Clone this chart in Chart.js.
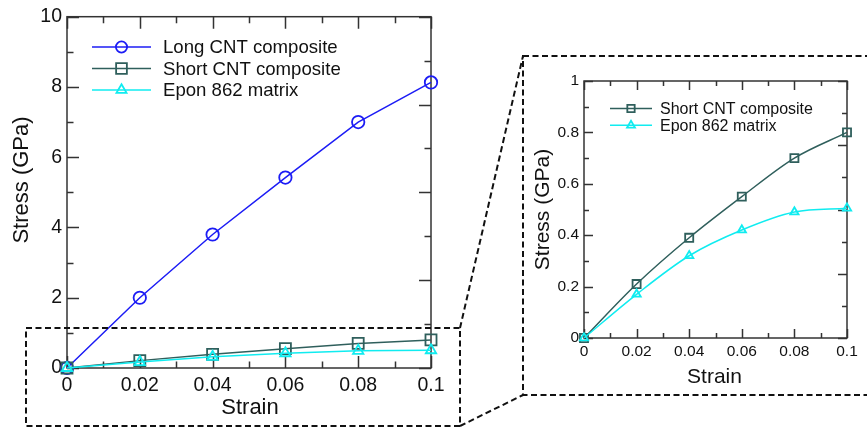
<!DOCTYPE html>
<html>
<head>
<meta charset="utf-8">
<script src="https://cdn.jsdelivr.net/npm/chart.js@4"></script>
<style>
  html, body { margin: 0; padding: 0; background: #fff; }
  #wrap { position: relative; width: 867px; height: 429px; overflow: hidden; background: #fff; }
  canvas { position: absolute; }
  #main { left: 0; top: 0; }
  #inset { left: 524px; top: 57px; }
  svg { position: absolute; left: 0; top: 0; pointer-events: none; }
</style>
</head>
<body>
<div id="wrap">
  <canvas id="main" width="470" height="429"></canvas>
  <canvas id="inset" width="343" height="338"></canvas>
  <svg width="867" height="429">
    <g fill="none" stroke="#111" stroke-width="2" stroke-dasharray="6 3.5">
      <rect x="26" y="328" width="434" height="98"></rect>
      <rect x="523" y="56" width="360" height="339"></rect>
      <line x1="460" y1="328" x2="523" y2="56"></line>
      <line x1="460" y1="426" x2="523" y2="395"></line>
    </g>
  </svg>
</div>
<script>
// Strain values shared by all curves
const strain = [0, 0.02, 0.04, 0.06, 0.08, 0.1];
// Stress (GPa)
const longCnt  = [0, 2.0, 3.8, 5.42, 7.0, 8.13];
const shortCnt = [0, 0.21, 0.39, 0.55, 0.70, 0.80];
const eponMatrix = [0, 0.17, 0.32, 0.42, 0.49, 0.505];

const seriesNames = ['Long CNT composite', 'Short CNT composite', 'Epon 862 matrix'];
const xTitle = 'Strain';
const yTitle = 'Stress (GPa)';

const FONT = "'Liberation Sans', Arial, Helvetica, sans-serif";
Chart.defaults.font.family = FONT;
Chart.defaults.color = '#111';

const toPoints = ys => strain.map((x, i) => ({ x, y: ys[i] }));
const fmt = v => String(+Number(v).toFixed(3));

// Box frame with inward major/minor ticks on all four sides
const frameTicks = {
  id: 'frameTicks',
  beforeDatasetsDraw(chart, args, o) {
    const { ctx, chartArea: a, scales: { x, y } } = chart;
    ctx.save();
    ctx.strokeStyle = o.color;
    ctx.lineWidth = o.width;
    ctx.beginPath();
    const run = (min, max, minor, every, fn) => {
      const n = Math.round((max - min) / minor);
      for (let i = 0; i <= n; i++) fn(min + i * minor, i % every === 0);
    };
    run(x.min, x.max, o.xMinor, o.xEvery, (v, major) => {
      const px = Math.round(x.getPixelForValue(v)) + 0.5;
      const L = major ? o.major : o.minor;
      ctx.moveTo(px, a.bottom); ctx.lineTo(px, a.bottom - L);
      ctx.moveTo(px, a.top); ctx.lineTo(px, a.top + L);
    });
    run(y.min, y.max, o.yMinor, o.yEvery, (v, major) => {
      const py = Math.round(y.getPixelForValue(v)) + 0.5;
      const L = major ? o.major : o.minor;
      ctx.moveTo(a.left, py); ctx.lineTo(a.left + L, py);
    });
    run(y.min, y.max, o.rMinor, o.rEvery, (v, major) => {
      const py = Math.round(y.getPixelForValue(v)) + 0.5;
      const L = major ? o.major : o.minor;
      ctx.moveTo(a.right, py); ctx.lineTo(a.right - L, py);
    });
    ctx.stroke();
    ctx.strokeRect(a.left, a.top, a.right - a.left, a.bottom - a.top);
    ctx.restore();
  }
};

// Legend entries drawn as line + marker + label, taken from the datasets
const lineLegend = {
  id: 'lineLegend',
  afterDatasetsDraw(chart, args, o) {
    const ctx = chart.ctx;
    ctx.save();
    ctx.font = o.fontSize + 'px ' + FONT;
    ctx.textBaseline = 'middle';
    ctx.fillStyle = '#111';
    const list = chart.data.datasets.slice().sort((p, q) => p.legendRank - q.legendRank);
    list.forEach((ds, i) => {
      const yy = o.y + i * o.row;
      ctx.strokeStyle = ds.borderColor;
      ctx.lineWidth = ds.borderWidth;
      ctx.beginPath();
      ctx.moveTo(o.x0, yy); ctx.lineTo(o.x1, yy);
      ctx.stroke();
      ctx.fillStyle = 'rgba(0,0,0,0)';
      ctx.lineWidth = ds.pointBorderWidth;
      Chart.helpers.drawPoint(ctx, {
        pointStyle: ds.pointStyle, radius: o.radius[ds.pointStyle] || ds.pointRadius,
        borderWidth: ds.pointBorderWidth, rotation: 0
      }, (o.x0 + o.x1) / 2, yy);
      ctx.fillStyle = '#111';
      ctx.fillText(ds.label, o.tx, yy + 1);
    });
    ctx.restore();
  }
};

// Axis titles at set positions
const axisTitles = {
  id: 'axisTitles',
  afterDraw(chart, args, o) {
    const { ctx, chartArea: a } = chart;
    ctx.save();
    ctx.fillStyle = '#111';
    ctx.textAlign = 'center';
    ctx.textBaseline = 'middle';
    ctx.font = o.xSize + 'px ' + FONT;
    ctx.fillText(o.xText, (a.left + a.right) / 2 + o.xShift, o.xY);
    ctx.translate(o.yX, o.yY);
    ctx.rotate(-Math.PI / 2);
    ctx.font = o.ySize + 'px ' + FONT;
    ctx.fillText(o.yText, 0, 0);
    ctx.restore();
  }
};

function dataset(label, ys, color, style, radius, rank, order, smooth) {
  return {
    label, data: toPoints(ys), borderColor: color, backgroundColor: 'rgba(0,0,0,0)',
    borderWidth: 1.5, pointStyle: style, pointRadius: radius, pointBorderWidth: 1.8,
    pointBackgroundColor: 'rgba(0,0,0,0)', pointBorderColor: color,
    cubicInterpolationMode: smooth ? 'monotone' : 'default', tension: 0,
    clip: false, order, legendRank: rank
  };
}

function scales(yMax, yStep, tickSize, yWidth, xHeight, yPad, xPad) {
  return {
    x: {
      type: 'linear', min: 0, max: 0.1,
      afterFit: s => { s.height = xHeight; },
      grid: { display: false, drawTicks: false }, border: { display: false },
      ticks: { stepSize: 0.02, padding: xPad, font: { size: tickSize }, color: '#111', callback: fmt, maxRotation: 0 }
    },
    y: {
      type: 'linear', min: 0, max: yMax,
      afterFit: s => { s.width = yWidth; },
      grid: { display: false, drawTicks: false }, border: { display: false },
      ticks: { stepSize: yStep, padding: yPad, font: { size: tickSize }, color: '#111', callback: fmt }
    }
  };
}

const COL_LONG = '#1c1cf5';
const COL_SHORT = '#2f5f5c';
const COL_EPON = '#10ecf0';

new Chart(document.getElementById('main'), {
  type: 'line',
  data: {
    datasets: [
      dataset(seriesNames[0], longCnt, COL_LONG, 'circle', 6.2, 0, 3, false),
      dataset(seriesNames[1], shortCnt, COL_SHORT, 'rect', 7.8, 1, 2, false),
      dataset(seriesNames[2], eponMatrix, COL_EPON, 'triangle', 6, 2, 1, false)
    ]
  },
  options: {
    responsive: false, animation: false, devicePixelRatio: 1,
    layout: { padding: { top: 14, right: 39, left: 0, bottom: 0 } },
    scales: scales(10, 2, 19.5, 67, 61, 5, 6),
    plugins: {
      legend: { display: false }, tooltip: { enabled: false },
      frameTicks: { color: '#333', width: 1.5, major: 12, minor: 6.5,
        xMinor: 0.01, xEvery: 2, yMinor: 1, yEvery: 2, rMinor: 1.25, rEvery: 2 },
      lineLegend: { x0: 92, x1: 151, tx: 163, y: 47, row: 21.5, fontSize: 18.6,
        radius: { circle: 5.6, rect: 7.6, triangle: 5.8 } },
      axisTitles: { xText: xTitle, yText: yTitle, xSize: 22, ySize: 22, xShift: 1, xY: 408, yX: 22, yY: 180 }
    }
  },
  plugins: [frameTicks, lineLegend, axisTitles]
});

new Chart(document.getElementById('inset'), {
  type: 'line',
  data: {
    datasets: [
      dataset(seriesNames[1], shortCnt, COL_SHORT, 'rect', 5.7, 0, 2, true),
      dataset(seriesNames[2], eponMatrix, COL_EPON, 'triangle', 4.8, 1, 1, true)
    ]
  },
  options: {
    responsive: false, animation: false, devicePixelRatio: 1,
    layout: { padding: { top: 24, right: 20, left: 0, bottom: 0 } },
    scales: scales(1, 0.2, 15.5, 60, 57, 5, 4),
    plugins: {
      legend: { display: false }, tooltip: { enabled: false },
      frameTicks: { color: '#333', width: 1.5, major: 9, minor: 5,
        xMinor: 0.01, xEvery: 2, yMinor: 0.1, yEvery: 2, rMinor: 0.125, rEvery: 2 },
      lineLegend: { x0: 86, x1: 128, tx: 136, y: 51.5, row: 16.8, fontSize: 16,
        radius: { rect: 5.2, triangle: 4.6 } },
      axisTitles: { xText: xTitle, yText: yTitle, xSize: 21, ySize: 21, xShift: -1, xY: 320.5, yX: 19.5, yY: 152.5 }
    }
  },
  plugins: [frameTicks, lineLegend, axisTitles]
});
</script>
</body>
</html>
